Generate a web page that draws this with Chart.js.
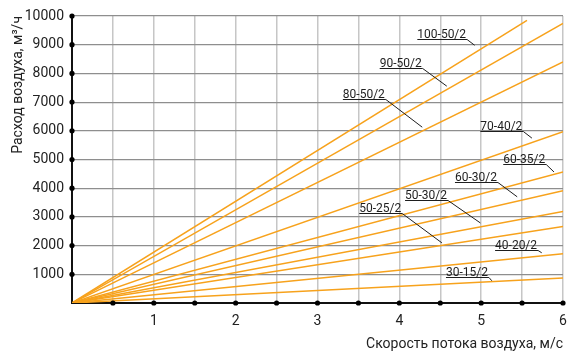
<!DOCTYPE html>
<html>
<head>
<meta charset="utf-8">
<script src="https://cdn.jsdelivr.net/npm/chart.js@4.4.1/dist/chart.umd.min.js"></script>
<style>
    html, body { margin: 0; padding: 0; background: #fff; }
    #wrap { width: 568px; height: 353px; }
</style>
</head>
<body>
<div id="wrap"><canvas id="flowChart"></canvas></div>
<script>
// Fan models and the end point of each straight characteristic (starts at 0,0)
const seriesNames = ['100-50/2', '90-50/2', '80-50/2', '70-40/2', '60-35/2', '60-30/2', '50-30/2', '50-25/2', '40-20/2', '30-15/2'];
const endSpeed = [5.56, 6, 6, 6, 6, 6, 6, 6, 6, 6];
const endFlow = [9850, 9740, 8400, 5970, 4565, 3915, 3185, 2665, 1715, 870];

// Label placement (data units): start of underline, and where the leader line points
const labelSpeed = [4.22, 3.76, 3.31, 4.99, 5.27, 4.68, 4.07, 3.51, 5.17, 4.57];
const labelFlow = [9190, 8180, 7100, 5990, 4840, 4220, 3590, 3140, 1850, 915];
const pointerSpeed = [4.92, 4.58, 4.28, 5.62, 5.89, 5.44, 4.99, 4.52, 5.74, 5.13];
const pointerFlow = [8980, 7555, 6125, 5745, 4565, 3700, 2790, 2095, 1750, 775];

const xTicks = { min: 0, max: 6, step: 0.5 };
const yTicks = { min: 0, max: 10000, step: 1000 };

const FONT = 'Roboto, "Noto Sans", sans-serif';
const ORANGE = '#f7a21c';

const datasets = seriesNames.map((name, i) => ({
    label: name,
    data: [{ x: 0, y: 0 }, { x: endSpeed[i], y: endFlow[i] }],
    showLine: true,
    borderColor: ORANGE,
    backgroundColor: ORANGE,
    borderWidth: 1.5,
    pointRadius: 0
}));

// Underlined model names with leader lines, plus black dots on the axis ticks
const annotatePlugin = {
    id: 'annotate',
    afterDatasetsDraw(chart) {
        const { ctx, scales: { x, y } } = chart;
        ctx.save();
        ctx.font = '12px ' + FONT;
        ctx.textBaseline = 'alphabetic';
        ctx.textAlign = 'left';
        seriesNames.forEach((name, i) => {
            const lx = x.getPixelForValue(labelSpeed[i]);
            const ly = Math.round(y.getPixelForValue(labelFlow[i])) + 0.5;
            const w = ctx.measureText(name).width;
            ctx.fillStyle = '#1e1e1e';
            ctx.fillText(name, lx, ly - 2);
            ctx.strokeStyle = '#1e1e1e';
            ctx.lineWidth = 1;
            ctx.beginPath();
            ctx.moveTo(lx, ly);
            ctx.lineTo(lx + w + 1, ly);
            ctx.lineTo(x.getPixelForValue(pointerSpeed[i]), y.getPixelForValue(pointerFlow[i]));
            ctx.stroke();
        });

        ctx.fillStyle = '#000';
        const x0 = x.getPixelForValue(0);
        const y0 = y.getPixelForValue(0);
        for (let v = xTicks.step; v <= xTicks.max + 1e-9; v += xTicks.step) {
            ctx.beginPath();
            ctx.arc(x.getPixelForValue(v), y0, 2.6, 0, Math.PI * 2);
            ctx.fill();
        }
        for (let v = yTicks.step; v <= yTicks.max; v += yTicks.step) {
            ctx.beginPath();
            ctx.arc(x0, y.getPixelForValue(v), 2.6, 0, Math.PI * 2);
            ctx.fill();
        }
        ctx.restore();
    }
};

new Chart(document.getElementById('flowChart'), {
    type: 'scatter',
    data: { datasets },
    options: {
        responsive: true,
        maintainAspectRatio: false,
        animation: false,
        layout: { padding: { top: 16, right: 5, bottom: 0, left: 0 } },
        plugins: {
            legend: { display: false },
            tooltip: { enabled: false }
        },
        scales: {
            x: {
                type: 'linear',
                min: xTicks.min,
                max: xTicks.max,
                afterFit: scale => {
                    scale.height = 50;
                    scale.paddingLeft = 0;
                    scale.paddingRight = 0;
                },
                border: { color: '#111', width: 2 },
                grid: { color: '#c6c6c6', lineWidth: 1.5, drawTicks: false },
                ticks: {
                    stepSize: xTicks.step,
                    padding: 10,
                    color: '#222',
                    font: { family: FONT, size: 14 },
                    callback: v => (Number.isInteger(v) && v > 0) ? String(v) : ''
                },
                title: {
                    display: true,
                    text: 'Скорость потока воздуха, м/с',
                    align: 'end',
                    color: '#222',
                    font: { family: FONT, size: 14 },
                    padding: { top: 0, bottom: 0 }
                }
            },
            y: {
                type: 'linear',
                min: yTicks.min,
                max: yTicks.max,
                afterFit: scale => {
                    scale.width = 72;
                    scale.paddingTop = 0;
                    scale.paddingBottom = 0;
                },
                border: { color: '#111', width: 2 },
                grid: { color: '#8e8e8e', lineWidth: 1.2, drawTicks: false },
                ticks: {
                    stepSize: yTicks.step,
                    padding: 8,
                    color: '#222',
                    font: { family: FONT, size: 14 },
                    callback: v => v > 0 ? String(v) : ''
                },
                title: {
                    display: true,
                    text: 'Расход воздуха, м³/ч',
                    align: 'end',
                    color: '#222',
                    font: { family: FONT, size: 14 },
                    padding: { top: 10, bottom: 0 }
                }
            }
        }
    },
    plugins: [annotatePlugin]
});
</script>
</body>
</html>
